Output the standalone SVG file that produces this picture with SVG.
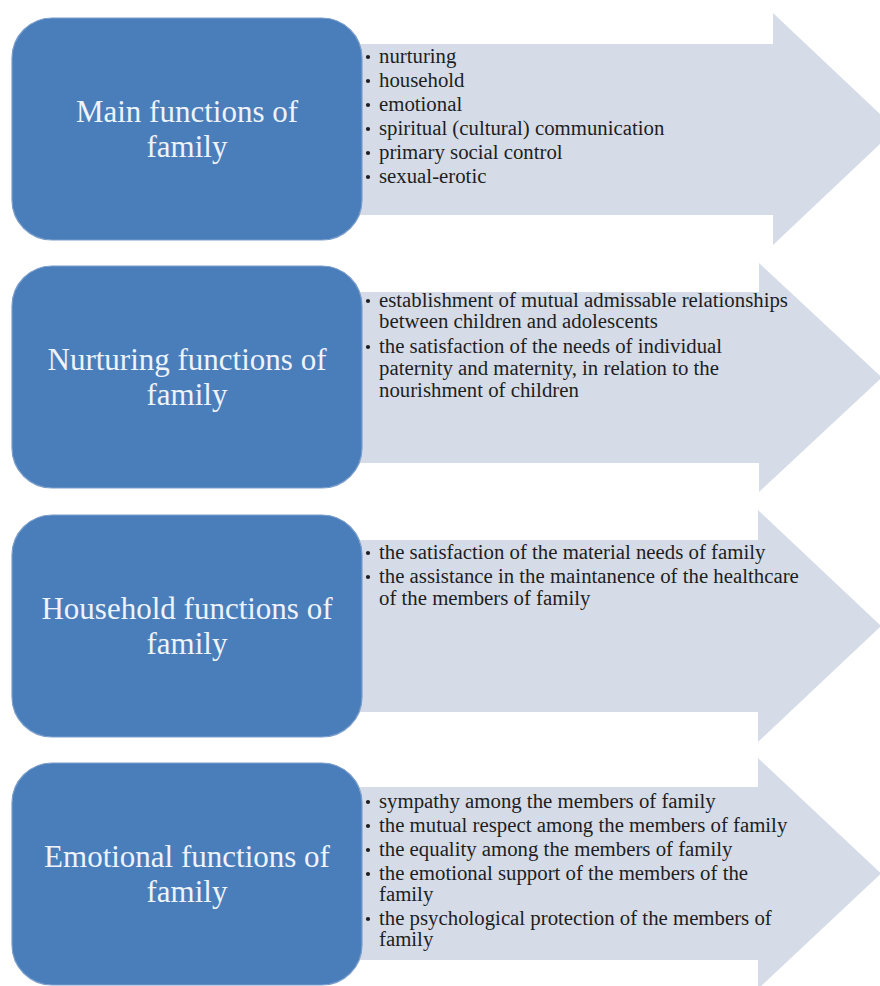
<svg xmlns="http://www.w3.org/2000/svg" width="880" height="986" viewBox="0 0 880 986">
<style>
.arrow{fill:#d5dce8}
.box{fill:#4a7ebb;stroke:#7a9dcc;stroke-width:1.2}
.title{font-family:"Liberation Serif","Times New Roman",serif;font-size:31px;fill:#eef3fa;text-anchor:middle}
.item{font-family:"Liberation Serif","Times New Roman",serif;font-size:20.8px;fill:#1e1e22}
.dot{fill:#1e1e22}
</style>
<defs>
<circle id="b" r="2.1" class="dot"/>
</defs>
<rect width="880" height="986" fill="#ffffff"/>

<g id="arrow-main">
<path class="arrow" d="M360 44 H773 V13 L896 129 L773 245 V215 H360 Z"/>
<g class="item">
<text x="379" y="63">nurturing</text>
<text x="379" y="87">household</text>
<text x="379" y="111">emotional</text>
<text x="379" y="135">spiritual (cultural) communication</text>
<text x="379" y="159">primary social control</text>
<text x="379" y="183">sexual-erotic</text>
</g>
<use href="#b" x="368" y="57"/><use href="#b" x="368" y="81"/><use href="#b" x="368" y="105"/><use href="#b" x="368" y="129"/><use href="#b" x="368" y="153"/><use href="#b" x="368" y="177"/>
</g>
<g id="box-main">
<rect class="box" x="12" y="18" width="350" height="222" rx="40" ry="40"/>
<text class="title" x="187" y="122">Main functions of</text>
<text class="title" x="187" y="157">family</text>
</g>

<g id="arrow-nurturing">
<path class="arrow" d="M360 292 H759 V263 L882 377.5 L759 492 V463 H360 Z"/>
<g class="item">
<text x="379" y="307">establishment of mutual admissable relationships</text>
<text x="379" y="328">between children and adolescents</text>
<text x="379" y="353">the satisfaction of the needs of individual</text>
<text x="379" y="375">paternity and maternity, in relation to the</text>
<text x="379" y="397">nourishment of children</text>
</g>
<use href="#b" x="368" y="301"/><use href="#b" x="368" y="347"/>
</g>
<g id="box-nurturing">
<rect class="box" x="12" y="266" width="350" height="222" rx="40" ry="40"/>
<text class="title" x="187" y="370">Nurturing functions of</text>
<text class="title" x="187" y="405">family</text>
</g>

<g id="arrow-household">
<path class="arrow" d="M360 540 H758 V510 L881 626 L758 742 V712 H360 Z"/>
<g class="item">
<text x="379" y="559">the satisfaction of the material needs of family</text>
<text x="379" y="583">the assistance in the maintanence of the healthcare</text>
<text x="379" y="605">of the members of family</text>
</g>
<use href="#b" x="368" y="553"/><use href="#b" x="368" y="577"/>
</g>
<g id="box-household">
<rect class="box" x="12" y="515" width="350" height="222" rx="40" ry="40"/>
<text class="title" x="187" y="619">Household functions of</text>
<text class="title" x="187" y="654">family</text>
</g>

<g id="arrow-emotional">
<path class="arrow" d="M360 787 H758 V758 L881 873.5 L758 989 V960 H360 Z"/>
<g class="item">
<text x="379" y="808">sympathy among the members of family</text>
<text x="379" y="832">the mutual respect among the members of family</text>
<text x="379" y="856">the equality among the members of family</text>
<text x="379" y="880">the emotional support of the members of the</text>
<text x="379" y="901">family</text>
<text x="379" y="925">the psychological protection of the members of</text>
<text x="379" y="946">family</text>
</g>
<use href="#b" x="368" y="802"/><use href="#b" x="368" y="826"/><use href="#b" x="368" y="850"/><use href="#b" x="368" y="874"/><use href="#b" x="368" y="919"/>
</g>
<g id="box-emotional">
<rect class="box" x="12" y="763" width="350" height="222" rx="40" ry="40"/>
<text class="title" x="187" y="867">Emotional functions of</text>
<text class="title" x="187" y="902">family</text>
</g>
<g id="connectors"/>
</svg>
